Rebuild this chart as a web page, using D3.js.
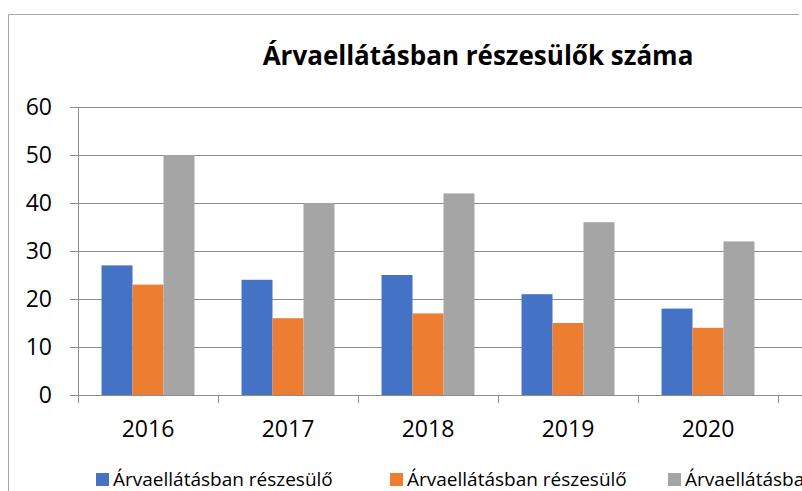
<!DOCTYPE html>
<html>
<head>
<meta charset="utf-8">
<script src="https://cdn.jsdelivr.net/npm/d3@7"></script>
<style>
	body { margin: 0; background: #fff; }
	svg { display: block; font-family: "Open Sans", "Noto Sans", sans-serif; }
</style>
</head>
<body>
<script>
(function(){
	//chart data
	var years = ['2016', '2017', '2018', '2019', '2020'];
	var seriesNames = ['Árvaellátásban részesülő', 'Árvaellátásban részesülő', 'Árvaellátásban részesülő'];
	var series1 = [27, 24, 25, 21, 18];
	var series2 = [23, 16, 17, 15, 14];
	var series3 = [50, 40, 42, 36, 32];
	var yTicks = [0, 10, 20, 30, 40, 50, 60];
	var colors = ['#4472C4', '#ED7D31', '#A5A5A5'];
	var chartTitle = 'Árvaellátásban részesülők száma';

window.onload = drawChart();

function drawChart(){
	var width = 802,
		height = 491;

	var svg = d3.select("body")
		.append("svg")
		.attr("width", width)
		.attr("height", height);

	//chart border (only top and left are in frame)
	svg.append("path")
		.attr("d", "M8.5,491 V14.5 H799")
		.attr("fill", "none")
		.attr("stroke", "#a6a6a6")
		.attr("stroke-width", 1);

	var x = d3.scaleBand()
		.domain(years)
		.range([78, 778])
		.paddingInner(0.336)
		.paddingOuter(0.168);

	var xSeries = d3.scaleBand()
		.domain([0, 1, 2])
		.range([0, x.bandwidth()]);

	var y = d3.scaleLinear()
		.domain([0, 60])
		.range([395, 107]);

	//gridlines
	svg.selectAll(".grid")
		.data(yTicks)
		.enter()
		.append("line")
		.attr("class", "grid")
		.attr("x1", 70)
		.attr("x2", width)
		.attr("y1", function(d){ return Math.round(y(d)) + 0.5; })
		.attr("y2", function(d){ return Math.round(y(d)) + 0.5; })
		.attr("stroke", "#8c8c8c")
		.attr("stroke-width", 1);

	//y axis line
	svg.append("line")
		.attr("x1", 78.5).attr("x2", 78.5)
		.attr("y1", y(60)).attr("y2", y(0))
		.attr("stroke", "#8c8c8c");

	//category ticks
	var step = x.step();
	svg.selectAll(".xtick")
		.data(d3.range(years.length + 1))
		.enter()
		.append("line")
		.attr("class", "xtick")
		.attr("x1", function(i){ return Math.round(78 + i * step) + 0.5; })
		.attr("x2", function(i){ return Math.round(78 + i * step) + 0.5; })
		.attr("y1", y(0))
		.attr("y2", y(0) + 8)
		.attr("stroke", "#8c8c8c");

	//bars
	var allSeries = [series1, series2, series3];
	var groups = svg.selectAll(".group")
		.data(years)
		.enter()
		.append("g")
		.attr("class", "group")
		.attr("transform", function(d){ return "translate(" + x(d) + ",0)"; });

	groups.selectAll("rect")
		.data(function(d, i){
			return allSeries.map(function(s, k){ return {k: k, v: s[i]}; });
		})
		.enter()
		.append("rect")
		.attr("x", function(d){ return xSeries(d.k); })
		.attr("width", xSeries.bandwidth())
		.attr("y", function(d){ return y(d.v); })
		.attr("height", function(d){ return y(0) - y(d.v); })
		.attr("fill", function(d){ return colors[d.k]; });

	//y tick labels
	svg.selectAll(".ylabel")
		.data(yTicks)
		.enter()
		.append("text")
		.attr("class", "ylabel")
		.attr("x", 52)
		.attr("y", function(d){ return y(d); })
		.attr("dy", "0.36em")
		.attr("text-anchor", "end")
		.attr("font-size", 23)
		.attr("fill", "#000")
		.text(function(d){ return d; });

	//category labels
	svg.selectAll(".xlabel")
		.data(years)
		.enter()
		.append("text")
		.attr("class", "xlabel")
		.attr("x", function(d){ return x(d) + x.bandwidth() / 2; })
		.attr("y", 437)
		.attr("text-anchor", "middle")
		.attr("font-size", 23)
		.attr("fill", "#000")
		.text(function(d){ return d; });

	//title
	svg.append("text")
		.attr("x", 478)
		.attr("y", 65)
		.attr("text-anchor", "middle")
		.attr("font-size", 26)
		.attr("font-weight", "bold")
		.attr("fill", "#000")
		.text(chartTitle);

	//legend
	var legendX = [96, 390, 668];
	var legend = svg.selectAll(".legend")
		.data(seriesNames)
		.enter()
		.append("g")
		.attr("class", "legend")
		.attr("transform", function(d, i){ return "translate(" + legendX[i] + ",0)"; });

	legend.append("rect")
		.attr("x", 0)
		.attr("y", 473)
		.attr("width", 13)
		.attr("height", 13)
		.attr("fill", function(d, i){ return colors[i]; });

	legend.append("text")
		.attr("x", 17)
		.attr("y", 486)
		.attr("font-size", 19)
		.attr("fill", "#000")
		.text(function(d){ return d; });
}
})();
</script>
</body>
</html>
